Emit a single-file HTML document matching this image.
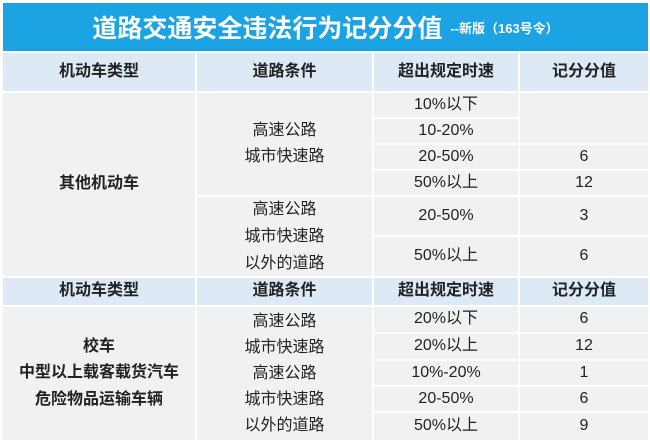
<!DOCTYPE html>
<html><head><meta charset="utf-8"><style>
body{margin:0;width:650px;height:440px;background:#fff;overflow:hidden;position:relative;font-family:"Liberation Sans","Noto Sans CJK SC",sans-serif;color:#222}
.c{position:absolute;display:flex;align-items:center;justify-content:center;text-align:center;font-size:16px;background:#f0f1f3;line-height:26.5px}
.h{background:#dde9f5;font-weight:bold;font-size:16px}
#t{position:absolute;left:3px;top:3px;width:645px;height:48px;background:#1ba3e3;color:#fff;display:flex;align-items:center;justify-content:center;font-weight:bold;font-size:25px}
#t small{font-size:13px;margin-left:8px}
</style></head><body>
<div id="t">道路交通安全违法行为记分分值<small>--新版（163号令）</small></div>
<div class="c h" style="left:3px;top:53px;width:192px;height:38px">机动车类型</div>
<div class="c h" style="left:197px;top:53px;width:175px;height:38px">道路条件</div>
<div class="c h" style="left:374px;top:53px;width:144px;height:38px">超出规定时速</div>
<div class="c h" style="left:520px;top:53px;width:128px;height:38px">记分分值</div>
<div class="c" style="left:3px;top:93px;width:192px;height:183px;font-weight:bold">其他机动车</div>
<div class="c" style="left:197px;top:93px;width:175px;height:102px;line-height:26px">高速公路<br>城市快速路</div>
<div class="c" style="left:197px;top:197px;width:175px;height:79px;line-height:27px">高速公路<br>城市快速路<br>以外的道路</div>
<div class="c" style="left:374px;top:93px;width:144px;height:24px">10%以下</div>
<div class="c" style="left:374px;top:119px;width:144px;height:24px">10-20%</div>
<div class="c" style="left:374px;top:145px;width:144px;height:24px">20-50%</div>
<div class="c" style="left:374px;top:171px;width:144px;height:24px">50%以上</div>
<div class="c" style="left:374px;top:197px;width:144px;height:38px">20-50%</div>
<div class="c" style="left:374px;top:237px;width:144px;height:39px">50%以上</div>
<div class="c" style="left:520px;top:93px;width:128px;height:50px"></div>
<div class="c" style="left:520px;top:145px;width:128px;height:24px">6</div>
<div class="c" style="left:520px;top:171px;width:128px;height:24px">12</div>
<div class="c" style="left:520px;top:197px;width:128px;height:38px">3</div>
<div class="c" style="left:520px;top:237px;width:128px;height:39px">6</div>
<div class="c h" style="left:3px;top:278px;width:192px;height:27px">机动车类型</div>
<div class="c h" style="left:197px;top:278px;width:175px;height:27px">道路条件</div>
<div class="c h" style="left:374px;top:278px;width:144px;height:27px">超出规定时速</div>
<div class="c h" style="left:520px;top:278px;width:128px;height:27px">记分分值</div>
<div class="c" style="left:3px;top:307px;width:192px;height:133px;font-weight:bold;line-height:26.5px">校车<br>中型以上载客载货汽车<br>危险物品运输车辆</div>
<div class="c" style="left:197px;top:307px;width:175px;height:133px;line-height:26px">高速公路<br>城市快速路<br>高速公路<br>城市快速路<br>以外的道路</div>
<div class="c" style="left:374px;top:307px;width:144px;height:25px">20%以下</div>
<div class="c" style="left:374px;top:334px;width:144px;height:25px">20%以上</div>
<div class="c" style="left:374px;top:361px;width:144px;height:24px">10%-20%</div>
<div class="c" style="left:374px;top:387px;width:144px;height:24px">20-50%</div>
<div class="c" style="left:374px;top:413px;width:144px;height:27px">50%以上</div>
<div class="c" style="left:520px;top:307px;width:128px;height:25px">6</div>
<div class="c" style="left:520px;top:334px;width:128px;height:25px">12</div>
<div class="c" style="left:520px;top:361px;width:128px;height:24px">1</div>
<div class="c" style="left:520px;top:387px;width:128px;height:24px">6</div>
<div class="c" style="left:520px;top:413px;width:128px;height:27px">9</div>
</body></html>
